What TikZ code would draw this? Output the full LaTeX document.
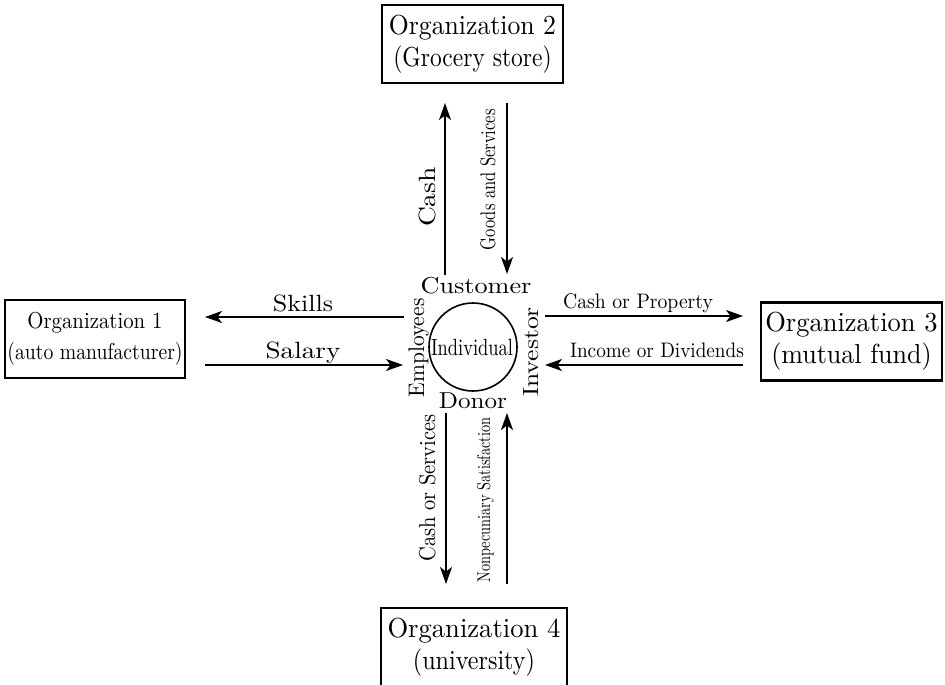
\documentclass[tikz,border=0pt]{standalone}
\usetikzlibrary{arrows.meta}
\newcommand{\tx}[3]{\scalebox{#1}[#2]{\fontsize{10}{12}\selectfont #3}}
\begin{document}
\begin{tikzpicture}[x=1pt,y=-1pt,
  orgbox/.style={draw,line width=2.4pt,inner sep=0pt,align=center,
     minimum width=181pt,minimum height=78pt,font=\fontsize{10}{32}\selectfont},
  flow/.style={line width=1.8pt,-{Stealth[length=17pt,width=12pt,inset=4.5pt]}},
  lbl/.style={inner sep=0pt,anchor=base}]
\useasboundingbox (0,0) rectangle (945,685);
\clip (0,0) rectangle (945,685);

% organizations
\node[orgbox] (org2) at (472.5,44) {\tx{2.57}{2.75}{Organization 2}\\\tx{2.35}{2.75}{(Grocery store)}};
\node[orgbox,minimum width=180pt,font=\fontsize{10}{31}\selectfont] (org1) at (95,339)
  {\tx{2.08}{2.3}{Organization 1}\\\tx{1.97}{2.3}{(auto manufacturer)}};
\node[orgbox] (org3) at (851.5,341.5) {\tx{2.65}{2.75}{Organization 3}\\\tx{2.6}{2.75}{(mutual fund)}};
\node[orgbox,minimum width=186pt] (org4) at (474,647) {\tx{2.66}{2.75}{Organization 4}\\\tx{2.41}{2.75}{(university)}};

% individual
\node[draw,circle,line width=1.6pt,minimum size=88pt,inner sep=0pt] (ind) at (473,347) {};
\node[lbl] (indt) at (472,355) {\tx{1.84}{2.35}{Individual}};

% roles
\node[lbl] (cust) at (476,293) {\tx{2.62}{2.3}{Customer}};
\node[lbl] (donor) at (473,408) {\tx{2.51}{2.3}{Donor}};
\node[lbl,rotate=90] (emp) at (424,348) {\tx{2.15}{2.25}{Employees}};
\node[lbl,rotate=90] (inv) at (538,352) {\tx{2.56}{2.2}{Investor}};

% arrow end points
\coordinate (s1) at (404,317); \coordinate (s2) at (205,317);
\coordinate (y1) at (205,365); \coordinate (y2) at (403,365);
\coordinate (p1) at (545,316); \coordinate (p2) at (743,316);
\coordinate (d1) at (743,365); \coordinate (d2) at (545,365);
\coordinate (c1) at (445,275); \coordinate (c2) at (445,103);
\coordinate (g1) at (507,103); \coordinate (g2) at (507,274);
\coordinate (v1) at (446,413); \coordinate (v2) at (446,584);
\coordinate (n1) at (507,584); \coordinate (n2) at (507,413);

\draw[flow] (s1) -- (s2);
\draw[flow] (y1) -- (y2);
\draw[flow] (p1) -- (p2);
\draw[flow] (d1) -- (d2);
\draw[flow] (c1) -- (c2);
\draw[flow] (g1) -- (g2);
\draw[flow] (v1) -- (v2);
\draw[flow] (n1) -- (n2);

% labels
\node[lbl] (lskills) at (303,311) {\tx{2.6}{2.35}{Skills}};
\node[lbl] (lsalary) at (303,358) {\tx{2.72}{2.35}{Salary}};
\node[lbl] (lprop) at (638,308) {\tx{1.97}{2.1}{Cash or Property}};
\node[lbl] (ldiv) at (657,357) {\tx{1.92}{2.1}{Income or Dividends}};
\node[lbl,rotate=90] (lcash) at (435,197) {\tx{2.76}{2.35}{Cash}};
\node[lbl,rotate=90] (lgoods) at (495,180) {\tx{1.65}{2.1}{Goods and Services}};
\node[lbl,rotate=90] (lserv) at (435,488) {\tx{2.04}{2.3}{Cash or Services}};
\node[lbl,rotate=90] (lnon) at (490,500) {\tx{1.43}{1.85}{Nonpecuniary Satisfaction}};
\end{tikzpicture}
\end{document}
